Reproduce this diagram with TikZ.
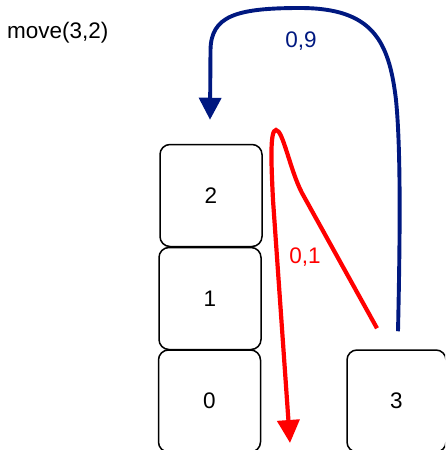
\documentclass[tikz,border=0pt]{standalone}
\usepackage{fontspec}
\setmainfont{Liberation Sans}
\usetikzlibrary{arrows.meta}
\definecolor{navyarrow}{RGB}{0,24,128}
\definecolor{redarrow}{RGB}{255,0,0}
\tikzset{
  blockbox/.style={draw=black, line width=1.5pt, rounded corners=10pt,
    minimum width=102pt, minimum height=102pt, inner sep=0pt,
    font=\fontsize{22.5}{26}\selectfont},
  bluearrow/.style={draw=navyarrow, line width=3.9pt,
    -{Triangle[width=22pt,length=22pt]}},
  redarr/.style={draw=redarrow, line width=4.2pt,
    -{Triangle[width=22pt,length=23pt]}},
  lbl/.style={font=\fontsize{22.5}{26}\selectfont, inner sep=0pt}
}
\begin{document}
\begin{tikzpicture}[x=1pt,y=-1pt]
\useasboundingbox (0,0) rectangle (445,450);
\clip (0,0) rectangle (445,450);
\node[lbl, anchor=base west] (title) at (7,38) {move(3,2)};
\node[blockbox] (b2) at (211,195.5) {2};
\node[blockbox] (b1) at (210,298.5) {1};
\node[blockbox] (b0) at (209.5,401) {0};
\node[blockbox, minimum width=99pt] (b3) at (396.5,401) {3};
% blue connector from above box 3 to above box 2
\coordinate (bstart) at ([xshift=1.5pt,yshift=18pt]b3.north);
\coordinate (bend) at ([xshift=-1pt,yshift=24pt]b2.north);
\draw[bluearrow] (bstart) .. controls (400,240) and (401,150) .. (396,100)
  .. controls (389,40) and (372,8) .. (300,8)
  .. controls (236,8) and (211,16) .. (210.5,50) -- (bend);
\node[lbl, text=navyarrow, anchor=base] (l09) at (301,47) {0,9};
% red connector
\coordinate (rstart) at ([xshift=-19.5pt,yshift=21pt]b3.north);
\coordinate (rend) at (290,443);
\draw[redarr] (rstart) -- (302,193)
  .. controls (290,170) and (283,130) .. (276,130)
  .. controls (270,130) and (271,160) .. (273,200) -- (rend);
\node[lbl, text=redarrow, anchor=base] (l01) at (305,263) {0,1};
\end{tikzpicture}
\end{document}
